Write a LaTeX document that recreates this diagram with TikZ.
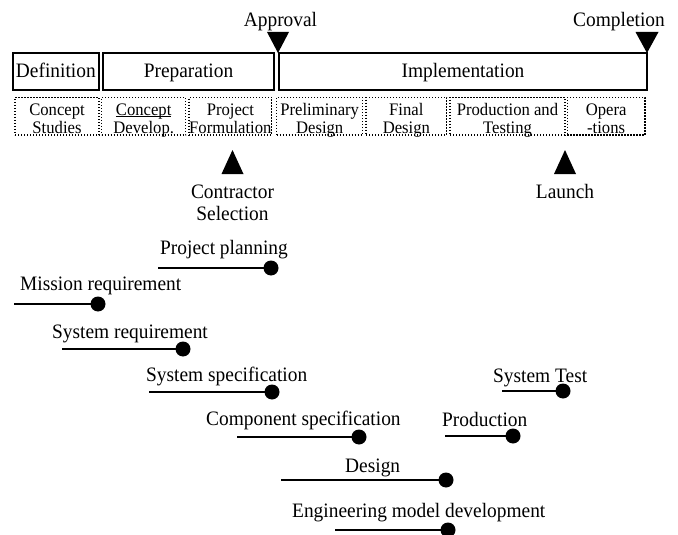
\documentclass[tikz,border=0pt]{standalone}
\usepackage{fontspec}
\setmainfont{Liberation Serif}[FakeStretch=0.946]
\newcommand\mainsize{\fontsize{20.5}{22}\selectfont}
\newcommand\cellsize{\fontsize{17.6}{18}\selectfont}
% two stacked lines whose base is the baseline of the first one
\newcommand\twolines[2]{\begin{tabular}[t]{@{}c@{}}#1\\#2\end{tabular}}
\begin{document}
\begin{tikzpicture}[x=1pt,y=-1pt,
  phase/.style={draw, line width=2pt, inner sep=0pt, minimum height=37.5pt,
    text height=14pt, text depth=1pt, font=\mainsize},
  cell/.style={draw, line width=1.5pt, dash pattern=on 1.4pt off 1.6pt,
    inner sep=0pt, minimum height=37.5pt},
  celltext/.style={anchor=base, inner sep=0pt, font=\cellsize},
  lbl/.style={anchor=base west, inner sep=0pt, font=\mainsize},
  clbl/.style={anchor=base, inner sep=0pt, font=\mainsize},
  dot/.style={circle, fill, inner sep=0pt, minimum size=15pt},
  bar/.style={line width=2.6pt},
  milestone/.style={fill=black}]
\useasboundingbox (0,0) rectangle (678,535);

% project phases
\node[phase, minimum width=86.3pt]  (def)  at (55.85,71.35)  {Definition};
\node[phase, minimum width=171pt]   (prep) at (188.5,71.35)  {Preparation};
\node[phase, minimum width=367.4pt] (impl) at (463,71.35)    {Implementation};

% sub-phases
\node[cell, minimum width=84pt]   (cs) at (57,116.25)    {};
\node[cell, minimum width=84pt]   (cd) at (143.7,116.25) {};
\node[cell, minimum width=82.7pt] (pf) at (230.35,116.25) {};
\node[cell, minimum width=86pt]   (pd) at (319.7,116.25) {};
\node[cell, minimum width=80.7pt] (fd) at (406.35,116.25) {};
\node[cell, minimum width=115pt]  (pt) at (507.5,116.25) {};
\node[cell, minimum width=77.7pt] (op) at (606.15,116.25) {};
\node[celltext] (csT) at (57,115)     {\twolines{Concept}{Studies}};
\node[celltext] (cdT) at (143.7,115)  {\twolines{\underline{\smash{Concept}}}{Develop.}};
\node[celltext] (pfT) at (230.35,115) {\twolines{Project}{Formulation}};
\node[celltext] (pdT) at (319.7,115)  {\twolines{Preliminary}{Design}};
\node[celltext] (fdT) at (406.35,115) {\twolines{Final}{Design}};
\node[celltext] (ptT) at (507.5,115)  {\twolines{Production and}{Testing}};
\node[celltext] (opT) at (606.15,115) {\twolines{Opera}{-tions}};

% milestones
\fill[milestone] (267,32) -- (289,32) -- (278,53) -- cycle;
\node[clbl] (appr) at (280.5,27) {Approval};
\fill[milestone] (635.5,32) -- (658.5,32) -- (647,53) -- cycle;
\node[clbl] (compl) at (619,27) {Completion};
\fill[milestone] (221.5,174) -- (243.5,174) -- (232.5,150) -- cycle;
\node[clbl] (contr) at (232.5,198) {\twolines{Contractor}{Selection}};
\fill[milestone] (554,174) -- (576,174) -- (565,150) -- cycle;
\node[clbl] (launch) at (565,198) {Launch};

% activities
\node[lbl] (ppL) at (160,254) {Project planning};
\coordinate (ppS) at (158,268);
\node[dot] (ppE) at (271,268) {};
\draw[bar] (ppS) -- (ppE.center);

\node[lbl] (mrL) at (20,290) {Mission requirement};
\coordinate (mrS) at (14,304);
\node[dot] (mrE) at (98,304) {};
\draw[bar] (mrS) -- (mrE.center);

\node[lbl] (srL) at (52,338) {System requirement};
\coordinate (srS) at (62,349);
\node[dot] (srE) at (183,349) {};
\draw[bar] (srS) -- (srE.center);

\node[lbl] (ssL) at (146,381) {System specification};
\coordinate (ssS) at (149,392);
\node[dot] (ssE) at (272,392) {};
\draw[bar] (ssS) -- (ssE.center);

\node[lbl] (csL) at (206,425) {Component specification};
\coordinate (cpS) at (237,437);
\node[dot] (cpE) at (359,437) {};
\draw[bar] (cpS) -- (cpE.center);

\node[lbl] (prL) at (442,426) {Production};
\coordinate (prS) at (445,436);
\node[dot] (prE) at (513,436) {};
\draw[bar] (prS) -- (prE.center);

\node[lbl] (stL) at (493,382) {System Test};
\coordinate (stS) at (502,391);
\node[dot] (stE) at (563,391) {};
\draw[bar] (stS) -- (stE.center);

\node[lbl] (deL) at (345,472) {Design};
\coordinate (deS) at (281,480);
\node[dot] (deE) at (446,480) {};
\draw[bar] (deS) -- (deE.center);

\node[lbl] (emL) at (292,517) {Engineering model development};
\coordinate (emS) at (335,530);
\node[dot] (emE) at (448,530) {};
\draw[bar] (emS) -- (emE.center);
\end{tikzpicture}
\end{document}
